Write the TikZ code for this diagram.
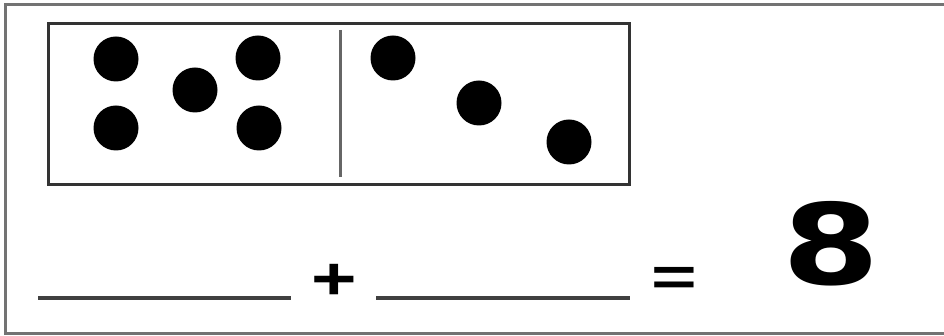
\documentclass[tikz,border=0pt]{standalone}
\usepackage{fontspec}
\setmainfont{Liberation Sans}
\newfontfamily\bigfont{DejaVu Sans}
\begin{document}
\begin{tikzpicture}[x=1pt,y=-1pt,
  frameline/.style={draw=black!55,line width=3pt},
  boxline/.style={draw=black!80,line width=3pt},
  pip/.style={circle,fill=black,inner sep=0pt,minimum size=45pt},
  blank/.style={draw=black!75,line width=4pt},
  sym/.style={inner sep=0pt,anchor=base}]
\useasboundingbox (0,0) rectangle (944,336);
% outer frame
\draw[frameline] (944,5) -- (5,5) -- (5,333) -- (944,333);
% domino
\draw[boxline] (48,24) rectangle (629,185);
\draw[draw=black!60,line width=3pt] (340,30) -- (340,177);
% pips left half
\node[pip] (l1) at (116,59) {};
\node[pip] (l2) at (258,58) {};
\node[pip] (l3) at (195,90) {};
\node[pip] (l4) at (116,128) {};
\node[pip] (l5) at (259,128) {};
% pips right half
\node[pip] (r1) at (393,58) {};
\node[pip] (r2) at (479,103) {};
\node[pip] (r3) at (569,142) {};
% equation
\draw[blank] (38,298) -- (291,298);
\draw[blank] (376,298) -- (630,298);
\node[sym,xscale=1.3] (plus) at (334,300) {\fontsize{60}{60}\selectfont\bfseries +};
\node[sym,xscale=1.45] (eq) at (674,295) {\fontsize{54}{54}\selectfont\bfseries =};
\node[sym,xscale=1.25] (eight) at (831,285) {\bigfont\fontsize{112}{112}\selectfont\bfseries 8};
\end{tikzpicture}
\end{document}
